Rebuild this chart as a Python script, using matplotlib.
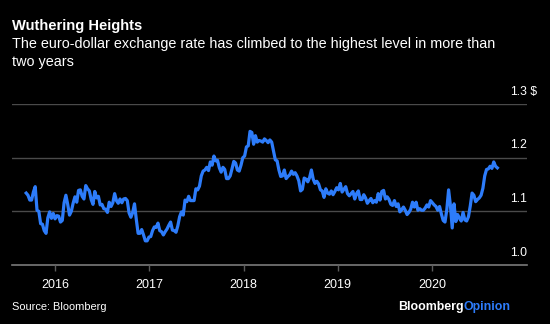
import matplotlib
matplotlib.use('Agg')
import matplotlib.pyplot as plt
import matplotlib.transforms as mtransforms
import pandas as pd

plt.rcParams['font.family'] = ['Liberation Sans', 'DejaVu Sans']

# ── Weekly EUR/USD closes (Fridays) ───────────────────────────────────────────
eur_2015 = [1.134, 1.130, 1.121, 1.121, 1.136, 1.146, 1.102, 1.100,
            1.077, 1.076, 1.064, 1.059, 1.088, 1.099, 1.087, 1.096]
eur_2016 = [1.086, 1.092, 1.091, 1.080, 1.083,
            1.116, 1.130, 1.113, 1.093,
            1.100, 1.115, 1.127, 1.117,
            1.139, 1.140, 1.128, 1.123, 1.148,
            1.142, 1.138, 1.122, 1.113,
            1.137, 1.125, 1.128, 1.112,
            1.113, 1.105, 1.104, 1.098, 1.117,
            1.109, 1.116, 1.133, 1.120,
            1.115, 1.123, 1.116, 1.123, 1.124,
            1.120, 1.097, 1.089, 1.098,
            1.114, 1.085, 1.059, 1.059,
            1.066, 1.056, 1.045, 1.045, 1.052]
eur_2017 = [1.053, 1.064, 1.071, 1.070,
            1.078, 1.064, 1.062, 1.056,
            1.062, 1.067, 1.074, 1.080, 1.065,
            1.064, 1.061, 1.073, 1.090,
            1.099, 1.093, 1.121, 1.118,
            1.128, 1.120, 1.120, 1.120, 1.142,
            1.140, 1.147, 1.166, 1.175,
            1.177, 1.182, 1.176, 1.192,
            1.186, 1.203, 1.194, 1.195, 1.181,
            1.173, 1.182, 1.178, 1.161,
            1.161, 1.166, 1.179, 1.193,
            1.190, 1.177, 1.175, 1.186, 1.200]
eur_2018 = [1.203, 1.220, 1.222, 1.249,
            1.247, 1.225, 1.241, 1.229,
            1.232, 1.231, 1.229, 1.235, 1.232,
            1.228, 1.233, 1.229, 1.213,
            1.196, 1.194, 1.177, 1.165,
            1.166, 1.177, 1.161, 1.165, 1.168,
            1.175, 1.169, 1.172, 1.166,
            1.157, 1.138, 1.141, 1.162, 1.160,
            1.155, 1.163, 1.177, 1.160,
            1.152, 1.156, 1.151, 1.140,
            1.138, 1.126, 1.142, 1.134, 1.132,
            1.138, 1.131, 1.137, 1.144]
eur_2019 = [1.140, 1.152, 1.136, 1.141,
            1.146, 1.133, 1.129, 1.133,
            1.137, 1.123, 1.133, 1.138, 1.122,
            1.122, 1.131, 1.125, 1.115,
            1.120, 1.124, 1.116, 1.120, 1.117,
            1.133, 1.121, 1.137, 1.139,
            1.123, 1.127, 1.122, 1.113,
            1.111, 1.120, 1.109, 1.114, 1.099,
            1.103, 1.108, 1.102, 1.094,
            1.098, 1.104, 1.117, 1.108,
            1.117, 1.102, 1.105, 1.102, 1.102,
            1.106, 1.112, 1.108, 1.120]
eur_2020 = [1.116, 1.112, 1.109, 1.102, 1.109,
            1.095, 1.083, 1.080, 1.103,
            1.140, 1.111, 1.069, 1.114,
            1.081, 1.094, 1.087, 1.082,
            1.098, 1.084, 1.082, 1.090, 1.110,
            1.134, 1.130, 1.118, 1.122,
            1.125, 1.130, 1.143, 1.166, 1.178,
            1.179, 1.184, 1.180, 1.192,
            1.184, 1.181]

values = eur_2015 + eur_2016 + eur_2017 + eur_2018 + eur_2019 + eur_2020
dates = pd.date_range('2015-09-11', periods=len(values), freq='7D')

y_ticks = [1.0, 1.1, 1.2, 1.3]
y_labels = ['1.0', '1.1', '1.2', '1.3']
years = [2016, 2017, 2018, 2019, 2020]

BLUE = '#2d7cfa'
GRID = '#4a4a4a'
BASE = '#7a7a7a'

# ── Figure ────────────────────────────────────────────────────────────────────
fig = plt.figure(figsize=(5.5, 3.24), dpi=100)
fig.patch.set_facecolor('black')
ax = fig.add_axes([12 / 550, 59 / 324, 515 / 550, 161 / 324])
ax.set_facecolor('black')

for v in y_ticks[1:]:
    ax.axhline(v, color=GRID, lw=1.0, zorder=1)
ax.axhline(1.0, color=BASE, lw=1.2, zorder=1, clip_on=False)

ax.plot(dates, values, color=BLUE, lw=2.3, zorder=3, solid_joinstyle='round')

ax.set_xlim(pd.Timestamp('2015-07-18'), pd.Timestamp('2021-01-04'))
ax.set_ylim(1.0, 1.3)
for s in ax.spines.values():
    s.set_visible(False)

ax.set_yticks([])
ax.set_xticks([pd.Timestamp(f'{y}-01-01') for y in years])
ax.set_xticklabels([str(y) for y in years])
ax.tick_params(axis='x', colors='#5a5a5a', length=4, width=1, pad=6,
               labelcolor='white', labelsize=9)

# value labels sit above each gridline at the right edge
trans = mtransforms.blended_transform_factory(ax.transAxes, ax.transData)
for v, lab in zip(y_ticks, y_labels):
    ax.text(1.0, v + 0.012, lab, transform=trans, ha='right', va='bottom',
            color='white', fontsize=8.7)
ax.text(1.0, 1.3 + 0.012, ' $', transform=trans, ha='left', va='bottom',
        color='white', fontsize=8.7)

# ── Titles and footer ─────────────────────────────────────────────────────────
fig.text(12 / 550, 1 - 26 / 324, 'Wuthering Heights', color='white',
         fontsize=10.6, fontweight='bold', va='center', ha='left')
fig.text(12 / 550, 1 - 44 / 324,
         'The euro-dollar exchange rate has climbed to the highest level in more than',
         color='white', fontsize=10.4, va='center', ha='left')
fig.text(12 / 550, 1 - 62 / 324, 'two years',
         color='white', fontsize=10.4, va='center', ha='left')

fig.text(12 / 550, 1 - 307 / 324, 'Source: Bloomberg', color='white',
         fontsize=7.9, va='center', ha='left')
op = fig.text(511 / 550, 1 - 307 / 324, 'Opinion', color=BLUE,
              fontsize=8.9, fontweight='bold', va='center', ha='right')
fig.add_artist(plt.Annotation('Bloomberg', xy=(0, 0.5), xycoords=op,
                              ha='right', va='center', color='white',
                              fontsize=8.9, fontweight='bold'))

fig.savefig('out.png', dpi=100, facecolor='black')
